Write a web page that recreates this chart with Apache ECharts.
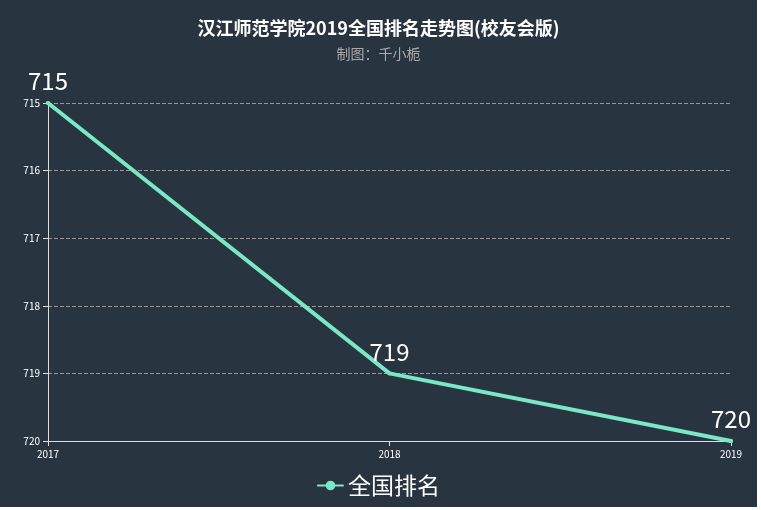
<!DOCTYPE html>
<html>
<head>
<meta charset="utf-8">
<script src="https://cdn.jsdelivr.net/npm/echarts@6/dist/echarts.min.js"></script>
<style>
html, body { margin: 0; padding: 0; background: #ffffff; }
#main { width: 757px; height: 507px; }
</style>
</head>
<body>
<div id="main"></div>
<script>
var years = ['2017', '2018', '2019'];
var ranks = [715, 719, 720];
var seriesName = '全国排名';

var myChart = echarts.init(document.getElementById('main'));
var fontFamily = '"Noto Sans CJK SC", "Noto Sans", sans-serif';

myChart.setOption({
    backgroundColor: '#283440',
    textStyle: { fontFamily: fontFamily },
    title: {
        text: '汉江师范学院2019全国排名走势图(校友会版)',
        subtext: '制图：千小栀',
        left: 'center',
        top: 14,
        itemGap: 10,
        textStyle: { color: '#ffffff', fontSize: 18, fontWeight: 'bold', fontFamily: fontFamily },
        subtextStyle: { color: '#aaaaaa', fontSize: 14, fontFamily: fontFamily }
    },
    legend: {
        bottom: 5,
        left: 'center',
        itemWidth: 25,
        itemHeight: 12,
        textStyle: { color: '#ffffff', fontSize: 23, fontFamily: fontFamily },
        data: [seriesName]
    },
    grid: { left: 48, right: 26, top: 103, bottom: 66 },
    xAxis: {
        type: 'category',
        boundaryGap: false,
        data: years,
        axisLine: { lineStyle: { color: '#dddddd' } },
        axisTick: { lineStyle: { color: '#dddddd' } },
        axisLabel: { color: '#ffffff', fontSize: 10, showMaxLabel: true },
        splitLine: { show: false }
    },
    yAxis: {
        type: 'value',
        inverse: true,
        min: 715,
        max: 720,
        interval: 1,
        axisLine: { show: true, lineStyle: { color: '#dddddd' } },
        axisTick: { show: true, lineStyle: { color: '#dddddd' } },
        axisLabel: { color: '#ffffff', fontSize: 10 },
        splitLine: { show: true, lineStyle: { color: '#999999', type: 'dashed' } }
    },
    series: [{
        name: seriesName,
        type: 'line',
        data: ranks,
        symbol: 'circle',
        symbolSize: 4,
        itemStyle: { color: '#7ae8c6' },
        lineStyle: { width: 4, color: '#7ae8c6', cap: 'round' },
        label: { show: true, position: 'top', distance: 8, color: '#ffffff', fontSize: 24, fontFamily: fontFamily }
    }]
});
</script>
</body>
</html>
